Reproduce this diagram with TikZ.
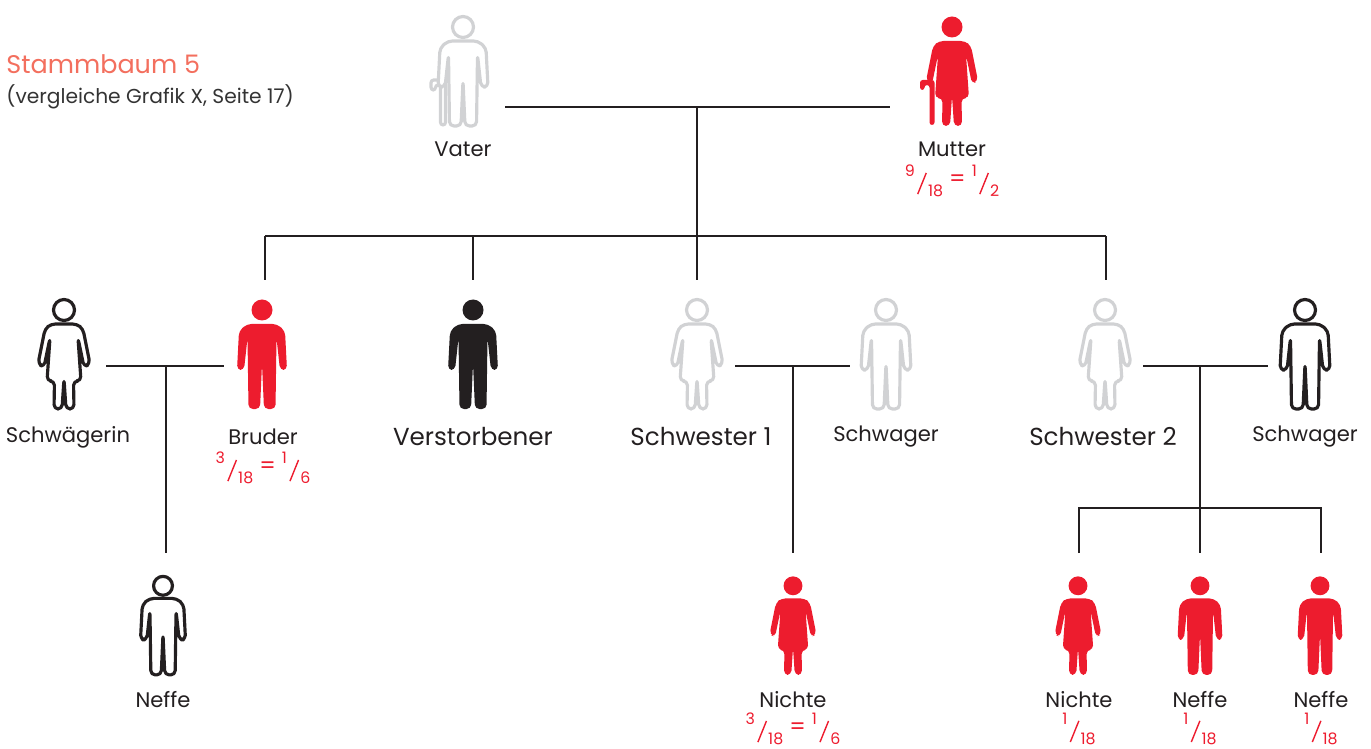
\documentclass[tikz,border=0pt]{standalone}
\usepackage{fontspec}
\setmainfont{Poppins}
\definecolor{rot}{HTML}{ED1C2E}
\definecolor{grau}{HTML}{D1D2D4}
\definecolor{schwarz}{HTML}{231F20}
\definecolor{lachs}{HTML}{F36F5E}
\definecolor{dunkel}{HTML}{333333}
\newcommand\bruch[2]{\raisebox{0.8ex}{\fontsize{9}{9}\selectfont#1}\kern0.1em\raisebox{-0.55ex}{\rotatebox{-22}{\rule{0.8pt}{13pt}}}\kern0.05em\raisebox{-0.75ex}{\fontsize{9}{9}\selectfont#2}}
\tikzset{
	pics/mann/.style={code={
		\path[pic actions] (0,12) circle[radius=10.5];
		\path[pic actions, rounded corners=2.5pt] (0,66) -- (2,111) -- (13.5,111) -- (14.5,40) -- (18,72) -- (25,72) -- (23,33) -- (15,26) -- (-15,26) -- (-23,33) -- (-25,72) -- (-18,72) -- (-14.5,40) -- (-13.5,111) -- (-2,111) -- cycle;
	}},
	pics/frau/.style={code={
		\path[pic actions] (0,12) circle[radius=10.5];
		\path[pic actions, rounded corners=2.5pt] (0,81) -- (2,111) -- (10,111) -- (9.5,83) -- (17,83) -- (14,40) -- (20,69) -- (26,66) -- (19,31) -- (13,26) -- (-13,26) -- (-19,31) -- (-26,66) -- (-20,69) -- (-14,40) -- (-17,83) -- (-9.5,83) -- (-10,111) -- (-2,111) -- cycle;
	}},
	pics/stock/.style={code={
		\path[pic actions, rounded corners=1.5pt] (-17.5,110) -- (-17.5,65) -- (-32,65) -- (-32,75) -- (-27.5,75) -- (-27.5,70) -- (-22.5,70) -- (-22.5,110) -- cycle;
	}}
}
\begin{document}
\begin{tikzpicture}[x=0.02cm, y=-0.02cm,
	umriss/.style={draw=#1, fill=white, line width=1.8pt, line join=round},
	voll/.style={fill=#1},
	linie/.style={draw=schwarz, line width=1.3pt},
	lbl/.style={text=schwarz, font=\fontsize{12}{14}\selectfont, inner sep=0pt},
	gross/.style={lbl, font=\fontsize{14}{16}\selectfont},
	anteil/.style={text=rot, inner sep=0pt, font=\fontsize{13}{14}\selectfont}]
	\useasboundingbox (0,0) rectangle (1371,749);
	\node[anchor=west, text=lachs, font=\fontsize{14.5}{17}\selectfont, inner sep=0pt] (titel) at (6,64) {Stammbaum 5};
	\node[anchor=west, text=dunkel, font=\fontsize{11.5}{14}\selectfont, inner sep=0pt] (quelle) at (6,97) {(vergleiche Grafik X, Seite 17)};

	\pic[umriss=grau] at (463,15) {stock}; \pic[umriss=grau] (vaterfig) at (463,15) {mann};
	\pic[voll=rot] at (952,15) {stock}; \pic[voll=rot] (mutterfig) at (952,15) {frau};
	\node[lbl] (vater) at (463,149) {Vater};
	\node[lbl] (mutter) at (952,149) {Mutter};
	\node[anteil] (mutter-a) at (952,181) {\bruch{9}{18} = \bruch{1}{2}};

	\pic[umriss=schwarz] at (64,298) {frau};
	\pic[voll=rot] at (262,298) {mann};
	\pic[voll=schwarz] at (473,298) {mann};
	\pic[umriss=grau] at (697,298) {frau};
	\pic[umriss=grau] at (886,298) {mann};
	\pic[umriss=grau] at (1105,298) {frau};
	\pic[umriss=schwarz] at (1305,298) {mann};
	\node[lbl] (schwaegerin) at (68,437) {Schwägerin};
	\node[lbl] (bruder) at (263,437) {Bruder};
	\node[anteil] (bruder-a) at (263,468) {\bruch{3}{18} = \bruch{1}{6}};
	\node[gross] (verstorbener) at (473,437) {Verstorbener};
	\node[gross] (schwester1) at (701,437) {Schwester 1};
	\node[lbl] (schwager1) at (886,437) {Schwager};
	\node[gross] (schwester2) at (1103,437) {Schwester 2};
	\node[lbl] (schwager2) at (1305,437) {Schwager};

	\pic[umriss=schwarz, scale=0.9] at (163,575) {mann};
	\pic[voll=rot, scale=0.9] at (793,575) {frau};
	\pic[voll=rot, scale=0.9] at (1078,575) {frau};
	\pic[voll=rot, scale=0.9] at (1200,575) {mann};
	\pic[voll=rot, scale=0.9] at (1320,575) {mann};
	\node[lbl] (neffe1) at (163,700) {Neffe};
	\node[lbl] (nichte1) at (793,700) {Nichte};
	\node[anteil] (nichte1-a) at (793,729) {\bruch{3}{18} = \bruch{1}{6}};
	\node[lbl] (nichte2) at (1079,700) {Nichte};
	\node[anteil] (nichte2-a) at (1079,729) {\bruch{1}{18}};
	\node[lbl] (neffe2) at (1200,700) {Neffe};
	\node[anteil] (neffe2-a) at (1200,729) {\bruch{1}{18}};
	\node[lbl] (neffe3) at (1321,700) {Neffe};
	\node[anteil] (neffe3-a) at (1321,729) {\bruch{1}{18}};

	\coordinate (eltern-l) at (505,107); \coordinate (eltern-r) at (890,107); \coordinate (eltern-m) at (697,107);
	\coordinate (geschw-l) at (265,236); \coordinate (geschw-r) at (1106,236); \coordinate (geschw-m) at (697,236);
	\coordinate (g1) at (265,280); \coordinate (g2) at (473,280); \coordinate (g3) at (697,280); \coordinate (g4) at (1106,280);
	\draw[linie] (eltern-l) -- (eltern-r);
	\draw[linie] (eltern-m) -- (geschw-m);
	\draw[linie] (geschw-l) -- (geschw-r);
	\foreach \k in {g1,g2,g3,g4} \draw[linie] (\k) -- (\k |- geschw-m);

	\coordinate (p1-l) at (106,366); \coordinate (p1-r) at (224,366); \coordinate (p1-m) at (166,366); \coordinate (k1) at (166,553);
	\coordinate (p2-l) at (735,366); \coordinate (p2-r) at (850,366); \coordinate (p2-m) at (793,366); \coordinate (k2) at (793,553);
	\coordinate (p3-l) at (1143,366); \coordinate (p3-r) at (1268,366); \coordinate (p3-m) at (1200,366); \coordinate (p3-b) at (1200,508);
	\coordinate (k3) at (1079,553); \coordinate (k4) at (1200,553); \coordinate (k5) at (1321,553);
	\draw[linie] (p1-l) -- (p1-r); \draw[linie] (p1-m) -- (k1);
	\draw[linie] (p2-l) -- (p2-r); \draw[linie] (p2-m) -- (k2);
	\draw[linie] (p3-l) -- (p3-r); \draw[linie] (p3-m) -- (p3-b);
	\draw[linie] (k3) |- (p3-b) -| (k5); \draw[linie] (p3-b) -- (k4);
\end{tikzpicture}
\end{document}
